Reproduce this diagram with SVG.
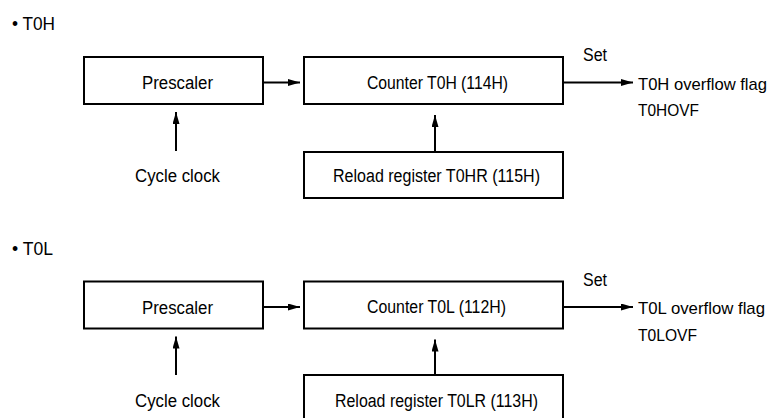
<svg xmlns="http://www.w3.org/2000/svg" width="772" height="418" viewBox="0 0 772 418">
<style>
  text { font-family: "Liberation Sans", Arial, sans-serif; font-size: 18px; fill: #000; }
  .flag { font-size: 17px; }
  .box { fill: #fff; stroke: #000; stroke-width: 2; }
  .wire { fill: none; stroke: #000; stroke-width: 2; marker-end: url(#ah); }
</style>
<defs>
  <marker id="ah" markerUnits="userSpaceOnUse" markerWidth="13" markerHeight="8" refX="12" refY="3.5" orient="auto">
    <path d="M0,0 L12,3.5 L0,7 z" fill="#000"/>
  </marker>
</defs>
<rect width="772" height="418" fill="#fff"/>

<g id="title-t0h"><text x="12" y="29.5" textLength="43" lengthAdjust="spacingAndGlyphs">• T0H</text></g>
<g id="prescaler-h"><rect class="box" x="84" y="57" width="179" height="47"/><text x="142" y="89" textLength="71" lengthAdjust="spacingAndGlyphs">Prescaler</text></g>
<g id="counter-h"><rect class="box" x="304" y="57" width="259" height="47"/><text x="367" y="88.5" textLength="141" lengthAdjust="spacingAndGlyphs">Counter T0H (114H)</text></g>
<g id="reload-h"><rect class="box" x="304" y="152" width="259" height="46"/><text x="333" y="182" textLength="207" lengthAdjust="spacingAndGlyphs">Reload register T0HR (115H)</text></g>
<g id="clock-h"><text x="135" y="182" textLength="85" lengthAdjust="spacingAndGlyphs">Cycle clock</text></g>
<g id="flag-h"><text x="583" y="61" textLength="24" lengthAdjust="spacingAndGlyphs">Set</text><text class="flag" x="638" y="89.5" textLength="129" lengthAdjust="spacingAndGlyphs">T0H overflow flag</text><text class="flag" x="638" y="116" textLength="61" lengthAdjust="spacingAndGlyphs">T0HOVF</text></g>

<g id="title-t0l"><text x="12" y="255" textLength="41" lengthAdjust="spacingAndGlyphs">• T0L</text></g>
<g id="prescaler-l"><rect class="box" x="84" y="281.5" width="179" height="47"/><text x="142" y="314" textLength="71" lengthAdjust="spacingAndGlyphs">Prescaler</text></g>
<g id="counter-l"><rect class="box" x="304" y="281.5" width="259" height="47"/><text x="367" y="313" textLength="139" lengthAdjust="spacingAndGlyphs">Counter T0L (112H)</text></g>
<g id="reload-l"><rect class="box" x="304" y="375" width="259" height="60"/><text x="335" y="406.5" textLength="203" lengthAdjust="spacingAndGlyphs">Reload register T0LR (113H)</text></g>
<g id="clock-l"><text x="135" y="406.5" textLength="85" lengthAdjust="spacingAndGlyphs">Cycle clock</text></g>
<g id="flag-l"><text x="583" y="286" textLength="24" lengthAdjust="spacingAndGlyphs">Set</text><text class="flag" x="638" y="314" textLength="127" lengthAdjust="spacingAndGlyphs">T0L overflow flag</text><text class="flag" x="638" y="340.5" textLength="59" lengthAdjust="spacingAndGlyphs">T0LOVF</text></g>

<g id="connectors">
  <line class="wire" x1="263" y1="82.5" x2="300" y2="82.5"/>
  <line class="wire" x1="563" y1="82.5" x2="633" y2="82.5"/>
  <line class="wire" x1="176" y1="151" x2="176" y2="112"/>
  <line class="wire" x1="435" y1="152" x2="435" y2="115"/>
  <line class="wire" x1="263" y1="307" x2="300" y2="307"/>
  <line class="wire" x1="563" y1="307" x2="633" y2="307"/>
  <line class="wire" x1="176" y1="375" x2="176" y2="336.5"/>
  <line class="wire" x1="435" y1="375" x2="435" y2="339.5"/>
</g>
</svg>
